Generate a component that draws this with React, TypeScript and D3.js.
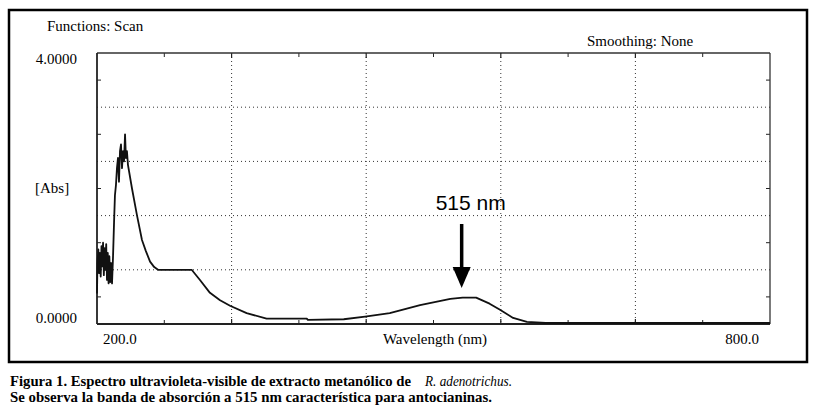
import React from "react";
import * as d3 from "d3";

const wavelengths = [
  200.0, 200.4, 201.2, 201.9, 202.6, 203.3, 204.0, 204.7, 205.4, 206.1, 206.8, 207.5, 208.2, 208.9,
  209.6, 210.3, 211.0, 211.8, 212.6, 213.4, 214.3, 215.2, 216.0, 216.9, 217.8, 218.7, 219.6, 220.5,
  221.4, 222.3, 223.2, 224.1, 225.0, 225.8, 226.7, 227.6, 231.2, 235.7, 240.1, 243.5, 247.3, 251.0,
  254.4, 284.4, 291.8, 300.7, 309.7, 318.6, 333.4, 351.2, 387.0, 388.0, 420.0, 439.0, 461.0, 488.0,
  515.0, 526.0, 538.0, 542.0, 550.0, 559.3, 571.0, 583.3, 600.0, 800.0,
];
const absorbance = [
  0.45, 0.9, 1.1, 0.75, 1.05, 0.7, 1.15, 0.85, 1.2, 0.72, 1.12, 0.8, 1.18, 0.65,
  1.05, 0.6, 1.0, 0.62, 0.9, 0.6, 1.0, 1.5, 1.9, 2.05, 2.3, 2.45, 2.1, 2.55,
  2.65, 2.3, 2.55, 2.4, 2.8, 2.45, 2.55, 2.35, 2.0, 1.6, 1.24, 1.08, 0.92, 0.84,
  0.8, 0.8, 0.65, 0.46, 0.35, 0.27, 0.16, 0.08, 0.08, 0.06, 0.07, 0.11, 0.16, 0.28,
  0.37, 0.39, 0.39, 0.36, 0.3, 0.21, 0.09, 0.03, 0.015, 0.015,
];
const xGridValues = [320, 440, 560, 680];
const xMinorValues = [260, 380, 500, 620, 740];
const yGridValues = [0.8, 1.6, 2.4, 3.2];
const yMinorValues = [0.4, 1.2, 2.0, 2.8, 3.6];
const xTickLabels = ["200.0", "800.0"];
const yTickLabels = ["4.0000", "0.0000"];
const peakWavelength = 526;
const peakLabel = "515 nm";

export default function App() {
  const left = 97, right = 770, top = 53, bottom = 324;
  const x = d3.scaleLinear().domain([200, 800]).range([left, right]);
  const y = d3.scaleLinear().domain([0, 4]).range([bottom, top]);
  const pts: [number, number][] = wavelengths.map((w, i) => [w, absorbance[i]]);
  const line = d3
    .line<[number, number]>()
    .x((d) => x(d[0]))
    .y((d) => y(d[1]))
    .curve(d3.curveLinear);

  const serifStyle = { fontFamily: '"Liberation Serif", "Times New Roman", Times, serif' };
  const gridStyle = { stroke: "#333", strokeWidth: 1, strokeDasharray: "1,3" };
  const ax = x(peakWavelength);

  return (
    <svg
      width={818}
      height={411}
      style={{ position: "absolute", left: 0, top: 0, background: "#fff" }}
    >
      <rect x={0} y={0} width={818} height={411} fill="#fff" />
      <rect x={9} y={10} width={798} height={352} fill="none" stroke="#000" strokeWidth={2.5} />

      {xGridValues.map((v) => (
        <line key={"gx" + v} x1={x(v)} x2={x(v)} y1={top} y2={bottom} {...gridStyle} />
      ))}
      {yGridValues.map((v) => (
        <line key={"gy" + v} x1={left} x2={right} y1={y(v)} y2={y(v)} {...gridStyle} />
      ))}

      {xMinorValues.map((v) => (
        <g key={"mx" + v} stroke="#222" strokeWidth={1}>
          <line x1={x(v)} x2={x(v)} y1={top} y2={top + 4} />
          <line x1={x(v)} x2={x(v)} y1={bottom} y2={bottom - 4} />
        </g>
      ))}
      {xGridValues.map((v) => (
        <g key={"tx" + v} stroke="#222" strokeWidth={1.2}>
          <line x1={x(v)} x2={x(v)} y1={top} y2={top + 5} />
          <line x1={x(v)} x2={x(v)} y1={bottom} y2={bottom - 5} />
        </g>
      ))}
      {yMinorValues.map((v) => (
        <g key={"my" + v} stroke="#222" strokeWidth={1}>
          <line x1={left} x2={left + 4} y1={y(v)} y2={y(v)} />
          <line x1={right} x2={right - 4} y1={y(v)} y2={y(v)} />
        </g>
      ))}

      <line x1={left} x2={right} y1={top} y2={top} stroke="#333" strokeWidth={1.3} />
      <line x1={right} x2={right} y1={top} y2={bottom} stroke="#333" strokeWidth={1.3} />
      <line x1={left} x2={left} y1={top} y2={bottom} stroke="#222" strokeWidth={1.8} />
      <line x1={left} x2={right} y1={bottom} y2={bottom} stroke="#222" strokeWidth={1.8} />

      <path d={line(pts) || ""} fill="none" stroke="#111" strokeWidth={1.8} strokeLinejoin="round" />

      <line x1={ax - 1} x2={ax - 1} y1={224} y2={272} stroke="#000" strokeWidth={3.5} />
      <path d={`M${ax - 10},${267} L${ax + 8},${267} L${ax - 1},${288} Z`} fill="#000" />
      <text x={ax + 8} y={210} style={{ fontFamily: '"Liberation Sans", Arial, sans-serif' }} fontSize={21} textAnchor="middle" fill="#000">
        {peakLabel}
      </text>

      <g style={serifStyle} fontSize={15} fill="#000">
        <text x={47} y={31}>Functions: Scan</text>
        <text x={587} y={46}>Smoothing: None</text>
        <text x={77} y={64} textAnchor="end">{yTickLabels[0]}</text>
        <text x={77} y={323} textAnchor="end">{yTickLabels[1]}</text>
        <text x={35} y={193}>[Abs]</text>
        <text x={103} y={344}>{xTickLabels[0]}</text>
        <text x={759} y={344} textAnchor="end">{xTickLabels[1]}</text>
        <text x={435} y={344} textAnchor="middle">Wavelength (nm)</text>
      </g>

      <g style={serifStyle} fontSize={15.5} fill="#000">
        <text x={10} y={386} fontWeight="bold" textLength={401} lengthAdjust="spacingAndGlyphs">
          Figura 1. Espectro ultravioleta-visible de extracto metanólico de
        </text>
        <text x={425} y={386} fontStyle="italic" textLength={87} lengthAdjust="spacingAndGlyphs">
          R. adenotrichus.
        </text>
        <text x={10} y={402} fontWeight="bold" textLength={482} lengthAdjust="spacingAndGlyphs">
          Se observa la banda de absorción a 515 nm característica para antocianinas.
        </text>
      </g>
    </svg>
  );
}
